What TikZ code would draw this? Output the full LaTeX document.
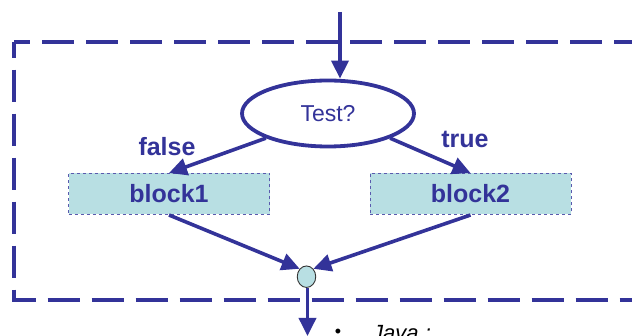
\documentclass[tikz,border=0pt]{standalone}
\usepackage{fontspec}
\setmainfont{Liberation Sans}
\usetikzlibrary{arrows.meta,shapes.geometric}
\definecolor{flowblue}{HTML}{333399}
\definecolor{blockfill}{HTML}{B8DFE3}
\definecolor{blockedge}{HTML}{5A5AAE}

\tikzset{
  flowarrow/.style={draw=flowblue, line width=3.6pt,
    -{Triangle[length=18pt,width=17pt]}},
  testshape/.style={ellipse, draw=flowblue, line width=3.8pt, fill=white,
    minimum width=172pt, minimum height=66pt, inner sep=0pt,
    text=flowblue, font=\fontsize{23}{23}\selectfont},
  blockbox/.style={rectangle, draw=blockedge, dashed, line width=1pt,
    fill=blockfill, minimum width=201pt, minimum height=41pt, inner sep=0pt,
    text=flowblue, font=\bfseries\fontsize{25}{25}\selectfont},
  joinpoint/.style={ellipse, draw=black!80, line width=0.9pt, fill=blockfill,
    minimum width=18.5pt, minimum height=21.5pt, inner sep=0pt},
  branchlabel/.style={text=flowblue, font=\bfseries\fontsize{25}{25}\selectfont},
  frameline/.style={draw=flowblue, line width=3.8pt,
    dash pattern=on 32pt off 12pt, dash phase=16pt}
}

\begin{document}
\begin{tikzpicture}[x=1pt,y=-1pt]
  \useasboundingbox (0,0) rectangle (632,336);
  \clip (0,0) rectangle (632,336);

  % enclosing dashed frame (open to the right)
  \draw[frameline] (14,41.7) -- (660,41.7);
  \draw[frameline] (14,41.7) -- (14,300) -- (660,300);

  % decision, branches and join
  \node[testshape] (test) at (328,113.5) {Test?};
  \node[blockbox] (b1) at (169,194) {block1};
  \node[blockbox] (b2) at (470.5,194) {block2};
  \node[joinpoint] (j) at (306.5,276.7) {};

  \node[branchlabel] (lf) at (167,147) {false};
  \node[branchlabel] (lt) at (465,139) {true};

  \coordinate (in) at (340,12);
  \coordinate (out) at (307.5,336);

  \draw[flowarrow] (in) -- (in |- test.north);
  \draw[flowarrow] (test.south west) -- (b1.north);
  \draw[flowarrow] (test.south east) -- (b2.north);
  \draw[flowarrow] (b1.south) -- (j.north west);
  \draw[flowarrow] (b2.south) -- (j.north east);
  \draw[flowarrow] (j.south -| out) -- (out);

  % start of the following bullet text
  \node[font=\fontsize{18}{18}\selectfont, inner sep=0pt] (bul) at (338,333) {•};
  \node[anchor=north west, inner sep=0pt, font=\itshape\fontsize{22}{22}\selectfont]
    (java) at (372,325.5) {Java :};
\end{tikzpicture}
\end{document}
